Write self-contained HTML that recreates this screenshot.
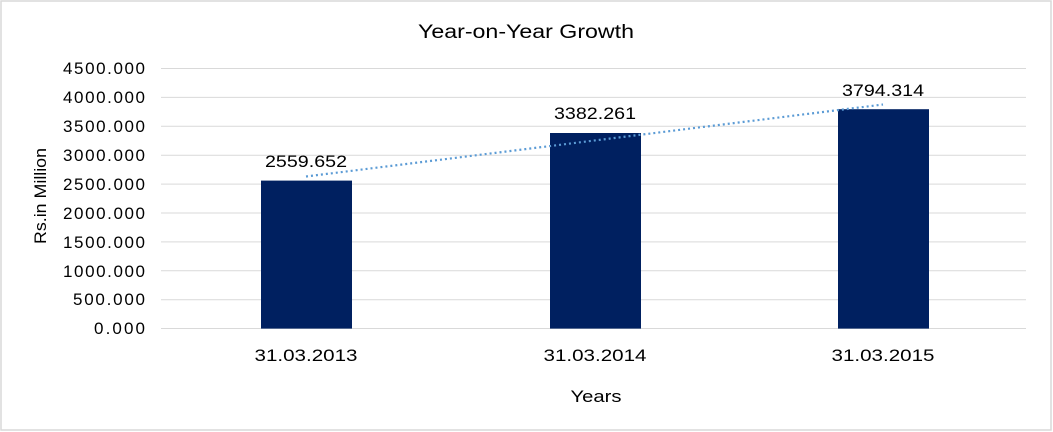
<!DOCTYPE html><html><head><style>body{margin:0;background:#fff}svg{display:block}text{font-family:"Liberation Sans",sans-serif;fill:#000}</style></head><body>
<svg width="1053" height="432" xmlns="http://www.w3.org/2000/svg">
<rect x="1" y="1" width="1050" height="429" fill="#fff" stroke="#d9d9d9" stroke-width="1.5"/>
<text x="526" y="38" font-size="19" text-anchor="middle" textLength="216" lengthAdjust="spacingAndGlyphs">Year-on-Year Growth</text>
<g stroke="#d9d9d9" stroke-width="1">
<line x1="161" x2="1026" y1="68.5" y2="68.5"/><line x1="161" x2="1026" y1="97.4" y2="97.4"/><line x1="161" x2="1026" y1="126.3" y2="126.3"/><line x1="161" x2="1026" y1="155.2" y2="155.2"/><line x1="161" x2="1026" y1="184.1" y2="184.1"/><line x1="161" x2="1026" y1="213" y2="213"/><line x1="161" x2="1026" y1="241.9" y2="241.9"/><line x1="161" x2="1026" y1="270.8" y2="270.8"/><line x1="161" x2="1026" y1="299.7" y2="299.7"/><line x1="161" x2="1026" y1="328.5" y2="328.5"/>
</g>
<g font-size="17" text-anchor="end" lengthAdjust="spacingAndGlyphs">
<text x="145" y="74" textLength="82">4500.000</text><text x="145" y="103" textLength="82">4000.000</text><text x="145" y="132" textLength="82">3500.000</text><text x="145" y="161" textLength="82">3000.000</text><text x="145" y="190" textLength="82">2500.000</text><text x="145" y="219" textLength="82">2000.000</text><text x="145" y="248" textLength="82">1500.000</text><text x="145" y="277" textLength="82">1000.000</text><text x="145" y="305" textLength="72">500.000</text><text x="145" y="334" textLength="51">0.000</text>
</g>
<text transform="translate(46,196) rotate(-90)" font-size="17" text-anchor="middle" textLength="96" lengthAdjust="spacingAndGlyphs">Rs.in Million</text>
<g fill="#002060">
<rect x="261" y="180.6" width="91" height="148"/><rect x="550" y="133" width="91" height="195.6"/><rect x="838" y="109.2" width="91" height="219.4"/>
</g>
<line x1="306" y1="176.5" x2="883" y2="104.5" stroke="#5b9bd5" stroke-width="2.2" stroke-dasharray="2,3"/>
<g font-size="17" text-anchor="middle">
<text x="306" y="167" textLength="82" lengthAdjust="spacingAndGlyphs">2559.652</text><text x="595" y="119" textLength="82" lengthAdjust="spacingAndGlyphs">3382.261</text><text x="883" y="96" textLength="82" lengthAdjust="spacingAndGlyphs">3794.314</text>
<text x="306" y="361" textLength="103" lengthAdjust="spacingAndGlyphs">31.03.2013</text><text x="595" y="361" textLength="103" lengthAdjust="spacingAndGlyphs">31.03.2014</text><text x="883" y="361" textLength="103" lengthAdjust="spacingAndGlyphs">31.03.2015</text>
<text x="596" y="402" textLength="51" lengthAdjust="spacingAndGlyphs">Years</text>
</g>
</svg></body></html>
